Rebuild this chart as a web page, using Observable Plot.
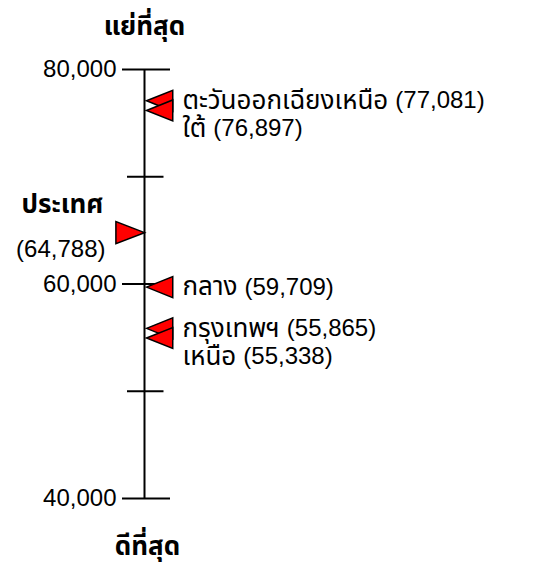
<!DOCTYPE html>
<html>
<head>
<meta charset="utf-8">
<script src="https://cdn.jsdelivr.net/npm/d3@7"></script>
<script src="https://cdn.jsdelivr.net/npm/@observablehq/plot@0.6"></script>
<style>
  html, body { margin: 0; padding: 0; background: #fff; }
  #chart svg { display: block; }
</style>
</head>
<body>
<div id="chart"></div>
<script>
// ---- data ----
const regions = ["ตะวันออกเฉียงเหนือ", "ใต้", "กลาง", "กรุงเทพฯ", "เหนือ"];
const regionValues = [77081, 76897, 59709, 55865, 55338];
const countryLabel = "ประเทศ";
const countryValue = 64788;
const majorTicks = [80000, 60000, 40000];
const minorTicks = [70000, 50000];
const topLabel = "แย่ที่สุด";
const bottomLabel = "ดีที่สุด";

// ---- layout helpers ----
const fmt = d3.format(",");
const FAMILY = "'Liberation Sans', Arial, Tahoma, 'Noto Sans Thai', 'Noto Sans', sans-serif";
const FONT = 24;      // latin / digits
const THAI = 26;      // thai names
const flagGap = 900;    // minimum separation between neighbouring flags (value units)
const labelGap = 2600;  // minimum separation between neighbouring labels (value units)
const order = d3.range(regions.length).sort((a, b) => regionValues[b] - regionValues[a]);
const flagPos = [], labelPos = [];
let prevF = Infinity, prevL = Infinity;
for (const i of order) {
  flagPos[i] = Math.min(regionValues[i], prevF - flagGap);
  prevF = flagPos[i];
  labelPos[i] = Math.min(flagPos[i], prevL - labelGap);
  prevL = labelPos[i];
}
const table = regions.map((name, i) => ({name, value: regionValues[i], flag: flagPos[i], label: labelPos[i]}));

const ctx2d = document.createElement("canvas").getContext("2d");
function textWidth(s, size, weight = "normal") {
  ctx2d.font = `${weight} ${size}px ${FAMILY}`;
  return ctx2d.measureText(s).width;
}

// flag symbols: tip at the anchor point
const flagLeft = {draw(ctx, size) {
  const r = Math.sqrt(size / Math.PI);
  ctx.moveTo(0, 0); ctx.lineTo(2.5 * r, -r); ctx.lineTo(2.5 * r, r); ctx.closePath();
}};
const flagRight = {draw(ctx, size) {
  const r = Math.sqrt(size / Math.PI);
  ctx.moveTo(0, 0); ctx.lineTo(-2.6 * r, -r); ctx.lineTo(-2.6 * r, r); ctx.closePath();
}};

const onAxis = () => 0;
const labelDx = 38;

const regionLabelMarks = table.flatMap(d => {
  const w = textWidth(d.name, THAI);
  return [
    Plot.text([d], {x: onAxis, y: "label", text: "name", textAnchor: "start", dx: labelDx, fontSize: THAI, fill: "black"}),
    Plot.text([d], {x: onAxis, y: "label", text: v => `(${fmt(v.value)})`, textAnchor: "start", dx: labelDx + w + 7, fontSize: FONT, fill: "black"})
  ];
});

const chart = Plot.plot({
  width: 533,
  height: 566,
  marginLeft: 144,
  marginRight: 363,
  marginTop: 69,
  marginBottom: 68,
  style: {fontFamily: FAMILY, color: "black", background: "white", overflow: "visible"},
  x: {domain: [0, 1], axis: null},
  y: {domain: [40000, 80000], axis: null},
  marks: [
    Plot.ruleX([0], {stroke: "black", strokeWidth: 2}),
    Plot.axisY({anchor: "left", ticks: majorTicks, tickSize: 22, tickPadding: 6, tickFormat: fmt, fontSize: FONT, label: null, strokeWidth: 2}),
    Plot.ruleY(majorTicks, {stroke: "black", strokeWidth: 2}),
    Plot.axisY({anchor: "left", ticks: minorTicks, tickSize: 17, tickFormat: () => "", label: null, strokeWidth: 2}),
    Plot.ruleY(minorTicks, {x1: 0, x2: 0.75, stroke: "black", strokeWidth: 2}),
    Plot.dot(table, {x: onAxis, y: "flag", symbol: flagLeft, r: 10.5, fill: "#ff0000", stroke: "black", strokeWidth: 1.5, dx: 2}),
    Plot.dot([countryValue], {x: onAxis, y: d => d, symbol: flagRight, r: 11, fill: "#ff0000", stroke: "black", strokeWidth: 1.5}),
    ...regionLabelMarks,
    Plot.text([countryValue], {x: onAxis, y: d => d, text: () => countryLabel, textAnchor: "end", dx: -41, dy: -28, fontSize: THAI, fontWeight: "bold", fill: "black"}),
    Plot.text([countryValue], {x: onAxis, y: d => d, text: d => `(${fmt(d)})`, textAnchor: "end", dx: -39, dy: 17, fontSize: FONT, fill: "black"}),
    Plot.text([topLabel], {x: onAxis, frameAnchor: "top", text: d => d, dy: -53, fontSize: THAI, fontWeight: "bold", fill: "black"}),
    Plot.text([bottomLabel], {x: onAxis, frameAnchor: "bottom", text: d => d, dy: 56, fontSize: THAI, fontWeight: "bold", fill: "black", dx: 3})
  ]
});
document.getElementById("chart").appendChild(chart);
</script>
</body>
</html>
